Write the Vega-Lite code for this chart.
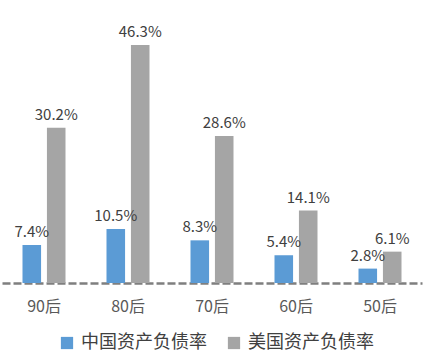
{
  "$schema": "https://vega.github.io/schema/vega-lite/v6.json",
  "width": 420,
  "height": 257,
  "autosize": {"type": "none"},
  "padding": {"left": 2, "top": 26, "right": 22, "bottom": 76},
  "background": "white",
  "config": {"view": {"stroke": null}, "font": "Noto Sans CJK SC"},
  "data": {"values": [
    {"gen": "90后", "series": "中国资产负债率", "value": 7.4, "label": "7.4%"},
    {"gen": "90后", "series": "美国资产负债率", "value": 30.2, "label": "30.2%"},
    {"gen": "80后", "series": "中国资产负债率", "value": 10.5, "label": "10.5%"},
    {"gen": "80后", "series": "美国资产负债率", "value": 46.3, "label": "46.3%"},
    {"gen": "70后", "series": "中国资产负债率", "value": 8.3, "label": "8.3%"},
    {"gen": "70后", "series": "美国资产负债率", "value": 28.6, "label": "28.6%"},
    {"gen": "60后", "series": "中国资产负债率", "value": 5.4, "label": "5.4%"},
    {"gen": "60后", "series": "美国资产负债率", "value": 14.1, "label": "14.1%"},
    {"gen": "50后", "series": "中国资产负债率", "value": 2.8, "label": "2.8%"},
    {"gen": "50后", "series": "美国资产负债率", "value": 6.1, "label": "6.1%"}
  ]},
  "encoding": {
    "x": {"field": "gen", "type": "nominal", "sort": ["90后", "80后", "70后", "60后", "50后"],
      "scale": {"paddingInner": 0.488, "paddingOuter": 0.244},
      "axis": {"title": null, "labelAngle": 0, "ticks": false, "labelFontSize": 16, "labelColor": "#595959", "labelPadding": 15,
        "domainDash": [8, 3], "domainWidth": 2.5, "domainColor": "#7f7f7f", "grid": false}},
    "xOffset": {"field": "series", "type": "nominal", "sort": ["中国资产负债率", "美国资产负债率"], "scale": {"paddingInner": 0.24}},
    "y": {"field": "value", "type": "quantitative", "scale": {"domain": [0, 50]}, "axis": null}
  },
  "layer": [
    {"mark": {"type": "bar"},
      "encoding": {"color": {"field": "series", "type": "nominal", "sort": ["中国资产负债率", "美国资产负债率"],
        "scale": {"range": ["#5B9BD5", "#A5A5A5"]},
        "legend": {"title": null, "orient": "none", "direction": "horizontal", "legendX": 56, "legendY": 308,
          "symbolType": "square", "symbolSize": 150, "symbolStrokeWidth": 0, "labelFontSize": 18, "labelColor": "#404040",
          "columnPadding": 18, "labelOffset": 5}}}},
    {"mark": {"type": "text", "baseline": "alphabetic", "dy": -8, "fontSize": 15, "color": "#404040"},
      "encoding": {"text": {"field": "label", "type": "nominal"}}}
  ]
}
